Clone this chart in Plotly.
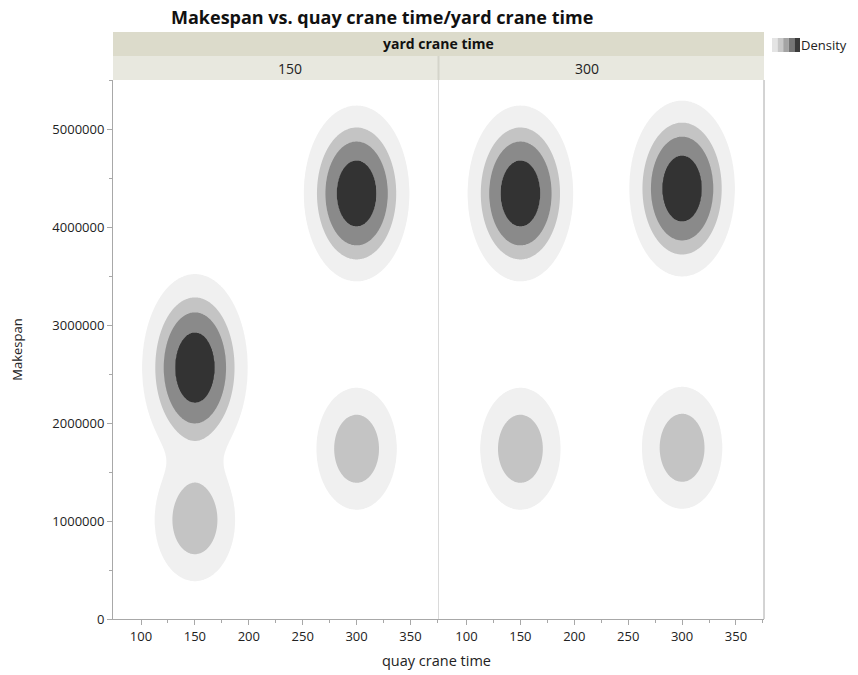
import numpy as np
import plotly.graph_objects as go

# Facet values (yard crane time) and the data clusters inside each facet
yard_levels = [150, 300]
cluster_yard = [150, 150, 150, 150, 300, 300, 300, 300]
cluster_quay = [150, 150, 300, 300, 150, 150, 300, 300]
cluster_makespan = [2570000, 1010000, 4350000, 1740000, 4350000, 1740000, 4400000, 1750000]
cluster_weight = [1.0, 0.414, 1.0, 0.414, 1.0, 0.414, 1.0, 0.414]
cluster_sd_quay = [22.3, 21.3, 22.3, 21.3, 22.3, 21.3, 22.3, 21.3]
cluster_sd_makespan = [435000, 356000, 409000, 356000, 409000, 356000, 409000, 356000]

# Density contour levels and their fill shades
density_levels = [0.089, 0.257, 0.43, 0.71]
shade_colors = ["#ffffff", "#f0f0f0", "#c4c4c4", "#8a8a8a", "#333333"]

x_ticks = [100, 150, 200, 250, 300, 350]
y_ticks = [0, 1000000, 2000000, 3000000, 4000000, 5000000]
x_range = [74, 376]
y_range = [0, 5510000]

gx = np.linspace(x_range[0], x_range[1], 360)
gy = np.linspace(y_range[0], y_range[1], 540)
GX, GY = np.meshgrid(gx, gy)

# step colorscale: one flat shade per band between levels
n = len(shade_colors)
colorscale = []
for i, c in enumerate(shade_colors):
    colorscale.append([i / n, c])
    colorscale.append([(i + 1) / n, c])

fig = go.Figure()
for k, yard in enumerate(yard_levels):
    dens = np.zeros_like(GX)
    for yv, qx, my, w, sx, sy in zip(cluster_yard, cluster_quay, cluster_makespan,
                                      cluster_weight, cluster_sd_quay, cluster_sd_makespan):
        if yv != yard:
            continue
        dens += w * np.exp(-0.5 * (((GX - qx) / sx) ** 2 + ((GY - my) / sy) ** 2))
    # map density onto level index so contours fall at integer steps
    idx = np.interp(dens, [0] + density_levels + [max(dens.max(), 1.0) + 1],
                    list(range(len(density_levels) + 2)))
    fig.add_trace(go.Contour(
        x=gx, y=gy, z=idx,
        xaxis="x" if k == 0 else "x2", yaxis="y",
        colorscale=colorscale, zmin=0, zmax=n, showscale=False,
        contours=dict(start=1, end=len(density_levels), size=1, coloring="fill", showlines=False),
        line=dict(width=0), hoverinfo="skip",
    ))

FONT = "Open Sans, Noto Sans, sans-serif"
axis_font = dict(family=FONT, size=13, color="#222222")
xaxis_common = dict(
    range=x_range, tickvals=x_ticks, ticks="outside", ticklen=5, tickcolor="#a8a8a8",
    showline=True, linecolor="#a8a8a8", linewidth=1, showgrid=False, zeroline=False,
    tickfont=axis_font, fixedrange=True,
    minor=dict(tickvals=[125, 175, 225, 275, 325, 375], ticks="outside", ticklen=3, tickcolor="#a8a8a8"),
)
fig.update_layout(
    width=858, height=675,
    margin=dict(l=113, r=94, t=80, b=56),
    plot_bgcolor="white", paper_bgcolor="white",
    showlegend=False,
    xaxis=dict(domain=[0, 0.5], **xaxis_common),
    xaxis2=dict(domain=[0.5, 1], anchor="y", **xaxis_common),
    yaxis=dict(
        range=y_range, tickvals=y_ticks, tickformat="d", ticks="outside", ticklen=5,
        tickcolor="#a8a8a8", showline=True, linecolor="#a8a8a8", showgrid=False,
        zeroline=False, tickfont=axis_font,
        minor=dict(tickvals=[500000, 1500000, 2500000, 3500000, 4500000, 5500000],
                   ticks="outside", ticklen=3, tickcolor="#a8a8a8"),
        title=dict(text="Makespan", font=axis_font, standoff=26),
    ),
)

# frame lines: panel divider and right border
fig.add_shape(type="line", xref="paper", yref="paper", x0=0.5, x1=0.5, y0=0, y1=1,
              line=dict(color="#dadada", width=1))
fig.add_shape(type="line", xref="paper", yref="paper", x0=1, x1=1, y0=0, y1=1,
              line=dict(color="#a8a8a8", width=1))


def py(pix):
    """pixel row -> paper y"""
    return (619 - pix) / 539


def px(pix):
    """pixel column -> paper x"""
    return (pix - 113) / 651


# facet header bands
fig.add_shape(type="rect", xref="paper", yref="paper", x0=0, x1=1, y0=py(56), y1=py(32),
              fillcolor="#dcdbcb", line=dict(width=0))
fig.add_shape(type="rect", xref="paper", yref="paper", x0=0, x1=1, y0=1.0, y1=py(56),
              fillcolor="#e8e8df", line=dict(width=0))
fig.add_shape(type="line", xref="paper", yref="paper", x0=0.5, x1=0.5, y0=1.0, y1=py(56),
              line=dict(color="#d4d4ca", width=2))
fig.add_annotation(text="<b>yard crane time</b>", xref="paper", yref="paper", x=0.5, y=py(44),
                   yanchor="middle", showarrow=False, font=dict(family=FONT, size=14, color="#111111"))
for k, yard in enumerate(yard_levels):
    fig.add_annotation(text=str(yard), xref="paper", yref="paper", x=0.25 + 0.5 * k, y=py(68),
                       yanchor="middle", showarrow=False, font=dict(family=FONT, size=14, color="#222222"))

# title and x-axis title
fig.add_annotation(text="<b>Makespan vs. quay crane time/yard crane time</b>", xref="paper", yref="paper",
                   x=px(382), y=py(17), yanchor="middle", showarrow=False,
                   font=dict(family=FONT, size=18, color="#111111"))
fig.add_annotation(text="quay crane time", xref="paper", yref="paper", x=px(436), y=py(660),
                   yanchor="middle", showarrow=False, font=dict(family=FONT, size=14.5, color="#222222"))

# density legend swatch
legend_shades = ["#e4e4e4", "#c8c8c8", "#a4a4a4", "#767676", "#3a3a3a"]
sx0 = 772
for i, c in enumerate(legend_shades):
    fig.add_shape(type="rect", xref="paper", yref="paper",
                  x0=px(sx0 + i * 5.6), x1=px(sx0 + (i + 1) * 5.6),
                  y0=py(52), y1=py(38), fillcolor=c, line=dict(width=0))
fig.add_annotation(text="Density", xref="paper", yref="paper", x=px(799), xanchor="left",
                   y=py(45), yanchor="middle", showarrow=False,
                   font=dict(family=FONT, size=13, color="#222222"))

fig.write_html("out.html")
